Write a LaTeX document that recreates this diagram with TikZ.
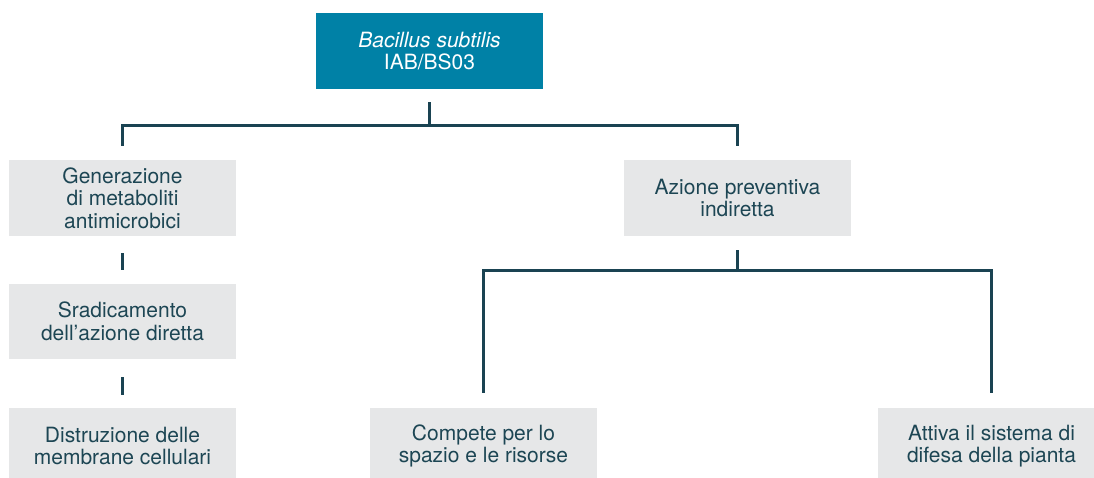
\documentclass[tikz,border=0pt]{standalone}
\usepackage{fontspec}
\setmainfont{TeX Gyre Heros}
\definecolor{topblue}{HTML}{0081A6}
\definecolor{boxgray}{HTML}{E6E7E8}
\definecolor{ink}{HTML}{1D4654}
\definecolor{linec}{HTML}{1A4352}
\begin{document}
\begin{tikzpicture}[x=1pt,y=-1pt,
  box/.style={rectangle, fill=boxgray, minimum width=227pt, minimum height=76pt, inner sep=0pt, align=center,
    text=ink, font=\fontsize{21}{22.5}\selectfont},
  topbox/.style={box, fill=topblue, text=white},
  conn/.style={draw=linec, line width=3pt}]
\useasboundingbox (0,0) rectangle (1094,477);
\node[topbox] (top) at (429.5,51) {\textit{Bacillus subtilis}\\IAB/BS03};
\node[box] (gen) at (122.5,198) {Generazione\\di metaboliti\\antimicrobici};
\node[box, minimum height=75pt] (srad) at (122.5,321.5) {Sradicamento\\dell’azione diretta};
\node[box] (dis) at (122.5,446) {Distruzione delle\\membrane cellulari};
\node[box] (azi) at (737.5,198) {Azione preventiva\\indiretta};
\node[box] (comp) at (483.5,446) {Compete per lo\\spazio e le risorse};
\node[box] (att) at (991.5,446) {Attiva il sistema di\\difesa della pianta};
\coordinate (j1) at (429.5,125);
\coordinate (j2) at (737.5,270);
\draw[conn] ([yshift=-13pt]top.south) -- (j1);
\draw[conn] ([yshift=14pt]gen.north) |- (j1) -| ([yshift=14pt]azi.north);
\draw[conn] ([yshift=-17pt]gen.south) -- ([yshift=14pt]srad.north);
\draw[conn] ([yshift=-18pt]srad.south) -- ([yshift=13pt]dis.north);
\draw[conn] ([yshift=-14pt]azi.south) -- (j2);
\draw[conn] ([yshift=15pt]comp.north) |- (j2) -| ([yshift=15pt]att.north);
\end{tikzpicture}
\end{document}
